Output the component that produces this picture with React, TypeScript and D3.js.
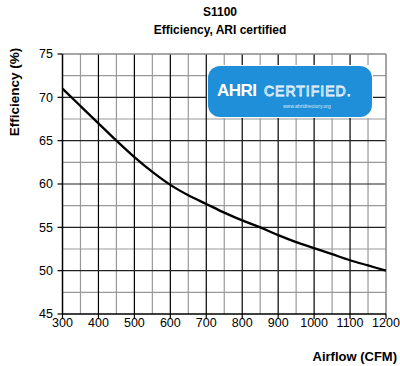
import React from "react";
import * as d3 from "d3";

const airflow = [300, 350, 400, 450, 500, 550, 600, 650, 700, 750, 800, 850, 900, 950, 1000, 1050, 1100, 1150, 1200];
const efficiency = [71, 69, 67, 65, 63.1, 61.4, 59.9, 58.7, 57.7, 56.7, 55.8, 55.0, 54.1, 53.3, 52.6, 51.9, 51.2, 50.6, 50.0];
const xTicks = [300, 400, 500, 600, 700, 800, 900, 1000, 1100, 1200];
const yTicks = [45, 50, 55, 60, 65, 70, 75];

export default function App() {
  const W = 400, H = 366;
  const x = d3.scaleLinear().domain([300, 1200]).range([62.5, 386]);
  const y = d3.scaleLinear().domain([45, 75]).range([314, 54]);
  const minorX = d3.range(350, 1200, 100);
  const minorY = d3.range(47.5, 75, 5);
  const line = d3.line<number>().x((_, i) => x(airflow[i])).y((d) => y(d)).curve(d3.curveMonotoneX);
  const font = "'Liberation Sans', Arial, sans-serif";
  return (
    <svg width={W} height={H} style={{ position: "absolute", left: 0, top: 0 }} fontFamily={font}>
      <rect width={W} height={H} fill="white" />
      <text x={220} y={16} textAnchor="middle" fontSize={12} fontWeight="bold">S1100</text>
      <text x={220} y={34} textAnchor="middle" fontSize={12} fontWeight="bold">Efficiency, ARI certified</text>
      {minorX.map((v) => (
        <line key={"mx" + v} x1={x(v)} x2={x(v)} y1={y(45)} y2={y(75)} stroke="#999" strokeWidth={1.2} />
      ))}
      {minorY.map((v) => (
        <line key={"my" + v} x1={x(300)} x2={x(1200)} y1={y(v)} y2={y(v)} stroke="#999" strokeWidth={1.2} />
      ))}
      {xTicks.slice(1, -1).map((v) => (
        <line key={"gx" + v} x1={x(v)} x2={x(v)} y1={y(45)} y2={y(75)} stroke="#000" strokeWidth={1.2} />
      ))}
      {yTicks.slice(1, -1).map((v) => (
        <line key={"gy" + v} x1={x(300)} x2={x(1200)} y1={y(v)} y2={y(v)} stroke="#222" strokeWidth={1.2} />
      ))}
      <line x1={x(300)} x2={x(1200)} y1={y(75)} y2={y(75)} stroke="#888" strokeWidth={1.5} />
      <line x1={x(1200)} x2={x(1200)} y1={y(45)} y2={y(75)} stroke="#888" strokeWidth={1.5} />
      <line x1={x(300)} x2={x(1200)} y1={y(45)} y2={y(45)} stroke="#000" strokeWidth={1.5} />
      <line x1={x(300)} x2={x(300)} y1={y(45)} y2={y(75)} stroke="#000" strokeWidth={1.5} />
      {yTicks.map((v) => (
        <g key={"yt" + v}>
          <line x1={x(300) - 5} x2={x(300)} y1={y(v)} y2={y(v)} stroke="#000" strokeWidth={1.2} />
          <text x={53} y={y(v)} dy="0.35em" textAnchor="end" fontSize={12.5}>{v}</text>
        </g>
      ))}
      {xTicks.map((v) => (
        <g key={"xt" + v}>
          <line x1={x(v)} x2={x(v)} y1={y(45)} y2={y(45) + 5} stroke="#000" strokeWidth={1.2} />
          <text x={x(v)} y={327} textAnchor="middle" fontSize={12.5}>{v}</text>
        </g>
      ))}
      <g>
        <rect x={207} y={65} width={166} height={53} fill="white" />
        <rect x={208} y={66} width={164} height={51} rx={12} fill="#1e8fd8" />
        <text x={217} y={96} fontSize={17} fontWeight="bold" fill="white" letterSpacing={-0.5}>AHRI</text>
        <text x={264} y={96} fontSize={14} fill="none" stroke="white" strokeWidth={0.8} letterSpacing={1}>CERTIFIED.</text>
        <text x={283} y={108} fontSize={5} fill="white" opacity={0.8}>www.ahridirectory.org</text>
      </g>
      <path d={line(efficiency) || ""} fill="none" stroke="#000" strokeWidth={2.3} />
      <text x={397} y={361} textAnchor="end" fontSize={13} fontWeight="bold">Airflow (CFM)</text>
      <text transform="translate(19,92) rotate(-90)" textAnchor="middle" fontSize={13.5} fontWeight="bold">Efficiency (%)</text>
    </svg>
  );
}
